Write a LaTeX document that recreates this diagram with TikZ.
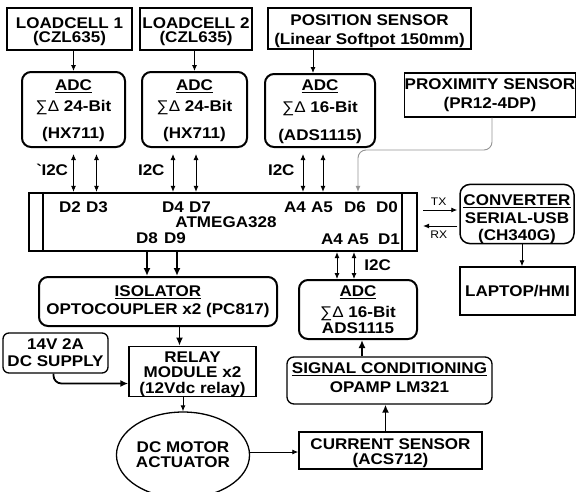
\documentclass[tikz,border=0pt]{standalone}
\usepackage{fontspec}
\setmainfont{Liberation Sans}[FakeStretch=1.1]
\usepackage{tikz}
\usetikzlibrary{arrows.meta,shapes.geometric,positioning,calc}
\newcommand{\boxlift}[1]{\rule{0pt}{#1}}

\begin{document}
\begin{tikzpicture}[
  x=1pt, y=-1pt,
  every node/.style={font=\bfseries\fontsize{15.5}{15}\selectfont, align=center, inner sep=0pt},
  box/.style={rectangle, draw, line width=1.3pt},
  adc/.style={rectangle, rounded corners=9pt, draw, line width=2pt},
  rbox/.style={rectangle, rounded corners=7pt, draw, line width=1.3pt},
  tag/.style={font=\bfseries\fontsize{15.5}{15}\selectfont},
  sigtag/.style={font=\fontsize{11}{11}\selectfont},
  arrow/.style={-{Latex[length=6pt,width=5pt]}, line width=0.9pt},
  bigarrow/.style={-{Latex[length=8pt,width=7pt]}, line width=1.8pt},
  bus/.style={{Latex[length=6pt,width=5pt]}-{Latex[length=6pt,width=5pt]}, line width=0.9pt},
  proxarrow/.style={-{Latex[length=6pt,width=5pt]}, line width=0.9pt, gray!85, rounded corners=8pt}
]
\useasboundingbox (0,0) rectangle (576,491);

\node[box, minimum width=125pt, minimum height=42pt] (lc1) at (69.5,29) {\boxlift{16pt}LOADCELL 1\\[-1pt](CZL635)};
\node[box, minimum width=112pt, minimum height=42pt] (lc2) at (196,29) {\boxlift{16pt}LOADCELL 2\\[-1pt](CZL635)};
\node[box, minimum width=203pt, minimum height=41pt] (pos) at (369.5,28.5) {\boxlift{16pt}POSITION SENSOR\\[4pt](Linear Softpot 150mm)};
\node[adc, minimum width=103pt, minimum height=75pt] (adc1) at (73.5,109.5) {\boxlift{13.5pt}\underline{ADC}\\[6pt]{\mdseries ∑Δ} 24-Bit\\[12pt](HX711)};
\node[adc, minimum width=105pt, minimum height=75pt] (adc2) at (194.5,109.5) {\boxlift{13.5pt}\underline{ADC}\\[6pt]{\mdseries ∑Δ} 24-Bit\\[12pt](HX711)};
\node[adc, minimum width=110pt, minimum height=73pt] (adc3) at (320,110.5) {\boxlift{14pt}\underline{ADC}\\[7pt]{\mdseries ∑Δ} 16-Bit\\[13pt](ADS1115)};
\node[box, minimum width=168pt, minimum height=44pt] (prox) at (490,95) {PROXIMITY SENSOR\\[4pt](PR12-4DP)};

\node[box, line width=2.2pt, minimum width=388pt, minimum height=58pt] (mcu) at (223,222) {\hspace*{6pt}ATMEGA328};
\draw[line width=2pt] ([xshift=15pt]mcu.north west) -- ([xshift=15pt]mcu.south west);
\draw[line width=2pt] ([xshift=-16pt]mcu.north east) -- ([xshift=-16pt]mcu.south east);

\node[tag] (pd2) at (70,207) {D2};
\node[tag] (pd3) at (97,207) {D3};
\node[tag] (pd4) at (173,207) {D4};
\node[tag] (pd7) at (200,207) {D7};
\node[tag] (pa4) at (295,207) {A4};
\node[tag] (pa5) at (322,207) {A5};
\node[tag] (pd6) at (355,207) {D6};
\node[tag] (pd0) at (387,207) {D0};
\node[tag] (pd8) at (147,238) {D8};
\node[tag] (pd9) at (175,238) {D9};
\node[tag] (pa4b) at (332,239) {A4};
\node[tag] (pa5b) at (358,239) {A5};
\node[tag] (pd1) at (389,239) {D1};

\node[rbox, rounded corners=10pt, line width=1.5pt, minimum width=114pt, minimum height=58pt] (conv) at (517,214) {\boxlift{21pt}\underline{CONVERTER}\\[3pt]SERIAL-USB\\[2pt](CH340G)};
\node[box, line width=1.5pt, minimum width=115pt, minimum height=48pt] (laptop) at (517.5,291) {LAPTOP/HMI};
\node[adc, minimum width=118pt, minimum height=59pt] (adc4) at (358,309.5) {\underline{ADC}\\[6pt]{\mdseries ∑Δ} 16-Bit\\[1pt]ADS1115};
\node[rbox, minimum width=205pt, minimum height=47pt] (sig) at (389.5,380.5) {\underline{SIGNAL CONDITIONING}\\[4pt]OPAMP LM321\rule[-6pt]{0pt}{0pt}};
\node[box, line width=1.5pt, minimum width=183pt, minimum height=37pt] (cur) at (390.5,450.5) {\boxlift{16pt}CURRENT SENSOR\\(ACS712)};
\node[adc, minimum width=238pt, minimum height=49pt] (iso) at (158,301.5) {\underline{ISOLATOR}\\[3pt]OPTOCOUPLER x2 (PC817)};
\node[box, line width=1.5pt, minimum width=127pt, minimum height=49pt] (relay) at (192.5,371.5) {\boxlift{16pt}RELAY\\MODULE x2\\[1pt](12Vdc relay)};
\node[rbox, rounded corners=6pt, minimum width=105pt, minimum height=40pt] (supply) at (55.5,353) {14V 2A\\[2pt]DC SUPPLY};
\node[ellipse, draw, line width=1.3pt, minimum width=109pt, minimum height=86pt] (motor) at (183,455) {DC MOTOR\\ACTUATOR};

\draw[arrow] (lc1.south -| adc1.north) -- (adc1.north);
\draw[arrow] (lc2.south -| adc2.north) -- (adc2.north);
\draw[arrow] ([xshift=-7pt]adc3.north |- pos.south) -- ([xshift=-7pt]adc3.north);

\draw[bus, shorten <=6pt] (adc1.south) -- (adc1.south |- mcu.north) node[midway, left=5pt] (i2c1) {\textasciigrave I2C};
\draw[bus, shorten <=6pt] ([xshift=23pt]adc1.south) -- ([xshift=23pt]adc1.south |- mcu.north);
\draw[bus, shorten <=6pt] ([xshift=-21.5pt]adc2.south) -- ([xshift=-21.5pt]adc2.south |- mcu.north) node[midway, left=8pt] (i2c2) {I2C};
\draw[bus, shorten <=6pt] ([xshift=1.5pt]adc2.south) -- ([xshift=1.5pt]adc2.south |- mcu.north);
\draw[bus, shorten <=6pt] ([xshift=-17pt]adc3.south) -- ([xshift=-17pt]adc3.south |- mcu.north) node[midway, left=8pt] (i2c3) {I2C};
\draw[bus, shorten <=6pt] ([xshift=3pt]adc3.south) -- ([xshift=3pt]adc3.south |- mcu.north);

\coordinate (pbend) at (358,150);
\draw[proxarrow] ([xshift=2pt]prox.south) |- (pbend) -- (pbend |- mcu.north);

\draw[arrow, shorten <=5pt, shorten >=2pt] ([yshift=4pt]conv.west -| mcu.east) -- ([yshift=4pt]conv.west) node[midway, above=4pt, sigtag] (tx) {TX};
\draw[arrow, shorten <=2pt, shorten >=5pt] ([yshift=-12pt]conv.west) -- ([yshift=-12pt]conv.west -| mcu.east) node[midway, below=4pt, sigtag] (rx) {RX};
\draw[arrow] ([xshift=5pt]conv.south) -- ([xshift=5pt]conv.south |- laptop.north);

\draw[bus] ([xshift=-21pt]adc4.north |- mcu.south) -- ([xshift=-21pt]adc4.north);
\draw[bus] ([xshift=-4pt]adc4.north |- mcu.south) -- ([xshift=-4pt]adc4.north) node[midway, right=10pt] (i2c4) {I2C};

\draw[bigarrow] (pd8 |- mcu.south) -- (pd8 |- iso.north);
\draw[bigarrow] ([xshift=2pt]pd9.south |- mcu.south) -- ([xshift=2pt]pd9.south |- iso.north);
\draw[bigarrow] ([xshift=-13pt]relay.north |- iso.south) -- ([xshift=-13pt]relay.north);
\draw[bigarrow, rounded corners=8pt] ([xshift=-2pt]supply.south) |- ([yshift=-12pt]relay.west);
\draw[arrow] (relay.south -| motor.north) -- (motor.north);
\draw[arrow] ([yshift=3pt]motor.east) -- ([yshift=3pt]motor.east -| cur.west);
\draw[bigarrow] ([xshift=-5pt]cur.north) -- ([xshift=-5pt]cur.north |- sig.south);
\draw[bigarrow] ([xshift=4pt]adc4.south |- sig.north) -- ([xshift=4pt]adc4.south);

\end{tikzpicture}
\end{document}
